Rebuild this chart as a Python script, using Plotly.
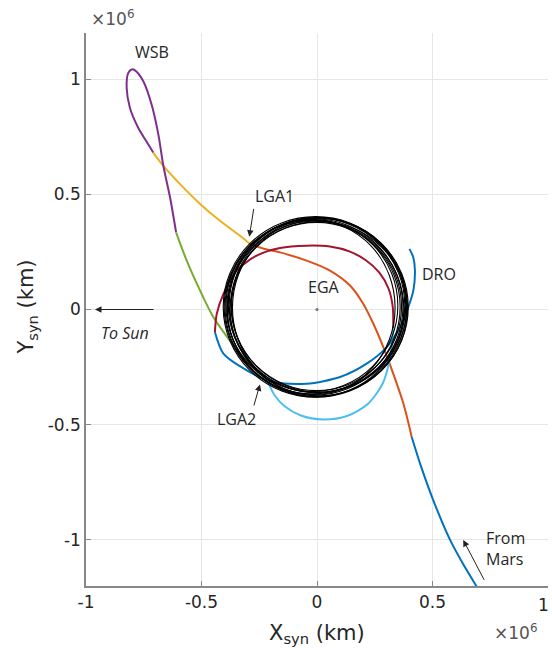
import plotly.graph_objects as go

# ---------------- data (units of 1e6 km) ----------------
# incoming leg from Mars (blue)
mars_x = [0.691, 0.630, 0.576, 0.503, 0.450, 0.410]
mars_y = [-1.202, -1.100, -1.000, -0.827, -0.680, -0.553]
# orange leg: through EGA region up to LGA1
ega_x = [0.410, 0.374, 0.330, 0.287, 0.244, 0.200, 0.143, 0.056, -0.045, -0.160, -0.230, -0.290]
ega_y = [-0.553, -0.408, -0.278, -0.163, -0.062, 0.025, 0.104, 0.169, 0.212, 0.248, 0.264, 0.284]
# yellow leg: LGA1 out to WSB loop
lga1_x = [-0.290, -0.333, -0.420, -0.506, -0.593, -0.665, -0.709]
lga1_y = [0.284, 0.320, 0.385, 0.458, 0.544, 0.623, 0.681]
# purple WSB loop
wsb_x = [-0.709, -0.740, -0.774, -0.810, -0.824, -0.817, -0.802, -0.788, -0.752, -0.716, -0.687, -0.665, -0.636, -0.610]
wsb_y = [0.681, 0.732, 0.789, 0.876, 0.962, 1.027, 1.042, 1.038, 0.991, 0.890, 0.761, 0.623, 0.486, 0.335]
# green leg: back to LGA2
ret_x = [-0.610, -0.564, -0.506, -0.449, -0.390, -0.333, -0.247, -0.215]
ret_y = [0.335, 0.212, 0.082, -0.033, -0.118, -0.192, -0.278, -0.310]
# light blue leg after LGA2
lga2_x = [-0.215, -0.185, -0.140, -0.070, 0.027, 0.130, 0.220, 0.285, 0.318, 0.330]
lga2_y = [-0.310, -0.370, -0.420, -0.460, -0.477, -0.462, -0.410, -0.320, -0.200, -0.080]
# dark red loop
loop_x = [0.330, 0.328, 0.310, 0.270, 0.210, 0.140, 0.056, -0.045, -0.160, -0.261, -0.348, -0.405, -0.434, -0.442]
loop_y = [-0.080, 0.010, 0.090, 0.160, 0.215, 0.252, 0.273, 0.277, 0.267, 0.234, 0.169, 0.068, -0.019, -0.098]
# final blue leg: insertion into DRO
ins_x = [-0.442, -0.405, -0.304, -0.189, -0.045, 0.100, 0.215, 0.302, 0.359, 0.395, 0.417, 0.424, 0.417, 0.400]
ins_y = [-0.098, -0.192, -0.264, -0.315, -0.322, -0.293, -0.235, -0.163, -0.077, 0.010, 0.082, 0.169, 0.226, 0.263]

# DRO revolutions (bounding boxes of each loop)
dro_left = [-0.406, -0.398, -0.390, -0.402, -0.384, -0.376, -0.394, -0.370, -0.366, -0.380, -0.388, -0.372]
dro_right = [0.395, 0.372, 0.388, 0.360, 0.380, 0.392, 0.350, 0.366, 0.338, 0.384, 0.376, 0.390]
dro_bottom = [-0.381, -0.372, -0.378, -0.366, -0.360, -0.375, -0.356, -0.352, -0.369, -0.362, -0.379, -0.358]
dro_top = [0.403, 0.394, 0.399, 0.388, 0.397, 0.382, 0.391, 0.378, 0.386, 0.400, 0.384, 0.396]

legs = [
    (mars_x, mars_y, "#0072BD"),
    (ega_x, ega_y, "#D95319"),
    (lga1_x, lga1_y, "#EDB120"),
    (wsb_x, wsb_y, "#7E2F8E"),
    (ret_x, ret_y, "#77AC30"),
    (lga2_x, lga2_y, "#4DBEEE"),
    (loop_x, loop_y, "#A2142F"),
    (ins_x, ins_y, "#0072BD"),
]

tick_vals_x = [-1, -0.5, 0, 0.5]
tick_text_x = ["-1", "-0.5", "0", "0.5"]
edge_tick_x = 1
edge_tick_text = "1"
tick_vals_y = [-1, -0.5, 0, 0.5, 1]
tick_text_y = ["-1", "-0.5", "0", "0.5", "1"]

# ---------------- figure ----------------
fig = go.Figure()
for xs, ys, col in legs:
    fig.add_trace(go.Scatter(x=xs, y=ys, mode="lines",
                             line=dict(color=col, width=2, shape="spline", smoothing=0.8),
                             showlegend=False, hoverinfo="skip"))

# Earth
fig.add_trace(go.Scatter(x=[0], y=[0], mode="markers",
                         marker=dict(color="#777777", size=3), showlegend=False))

for x0, x1, y0, y1 in zip(dro_left, dro_right, dro_bottom, dro_top):
    fig.add_shape(type="circle", xref="x", yref="y", x0=x0, x1=x1, y0=y0, y1=y1,
                  line=dict(color="black", width=1.1), layer="above")

FONT = "Open Sans, DejaVu Sans, sans-serif"
TFONT = "DejaVu Sans, sans-serif"
TXT = "#262626"

def label(x, y, text, size=16, **kw):
    fig.add_annotation(x=x, y=y, xref="x", yref="y", text=text, showarrow=False,
                       font=dict(family=FONT, size=size, color=TXT), **kw)

def arrow(xh, yh, xt, yt):
    fig.add_annotation(x=xh, y=yh, ax=xt, ay=yt, xref="x", yref="y", axref="x", ayref="y",
                       text="", showarrow=True, arrowhead=2, arrowsize=1.3,
                       arrowwidth=1, arrowcolor="#222222")

label(-0.714, 1.118, "WSB")
label(-0.185, 0.494, "LGA1")
label(0.032, 0.097, "EGA")
label(0.528, 0.155, "DRO")
label(-0.348, -0.475, "LGA2")
label(0.722, -1.036, "From<br>Mars", xanchor="left", align="left")
label(-0.831, -0.102, "<i>To Sun</i>")

arrow(-0.293, 0.316, -0.273, 0.443)
arrow(-0.247, -0.325, -0.275, -0.423)
arrow(0.633, -1.000, 0.727, -1.180)
arrow(-0.961, 0.0, -0.701, 0.0)

# right-edge x tick label
fig.add_annotation(x=edge_tick_x, y=-0.0345, xref="x", yref="paper", showarrow=False,
                   text=edge_tick_text, xanchor="right", yanchor="middle", xshift=3,
                   font=dict(family=TFONT, size=17, color=TXT))

# axis titles and exponent labels
fig.add_annotation(x=0.5, y=-0.087, xref="paper", yref="paper", showarrow=False,
                   xanchor="center", yanchor="middle",
                   text="X<sub>syn</sub> (km)", font=dict(family=TFONT, size=21, color=TXT))
fig.add_annotation(x=-0.128, y=0.505, xref="paper", yref="paper", showarrow=False, textangle=-90,
                   xanchor="center", yanchor="middle",
                   text="Y<sub>syn</sub> (km)", font=dict(family=TFONT, size=21, color=TXT))
fig.add_annotation(x=0.058, y=1.027, xref="paper", yref="paper", showarrow=False,
                   xanchor="center", yanchor="middle",
                   text="×10<sup>6</sup>", font=dict(family=TFONT, size=17, color="#555555"))
fig.add_annotation(x=0.93, y=-0.083, xref="paper", yref="paper", showarrow=False,
                   xanchor="center", yanchor="middle",
                   text="×10<sup>6</sup>", font=dict(family=TFONT, size=17, color="#555555"))

axis_common = dict(showgrid=True, gridcolor="#e6e6e6", gridwidth=1, zeroline=False,
                   showline=True, linecolor="#888888", linewidth=1.5,
                   ticks="inside", ticklen=5, tickcolor="#888888",
                   tickfont=dict(family=TFONT, size=17, color=TXT))
fig.update_xaxes(range=[-1, 1], tickvals=tick_vals_x + [edge_tick_x],
                 ticktext=tick_text_x + [""], **axis_common)
fig.update_yaxes(range=[-1.2, 1.2], tickvals=tick_vals_y, ticktext=tick_text_y, **axis_common)

fig.update_layout(width=552, height=648, margin=dict(l=86, r=4, t=33, b=62),
                  plot_bgcolor="white", paper_bgcolor="white", showlegend=False)

fig.write_html("out.html")
